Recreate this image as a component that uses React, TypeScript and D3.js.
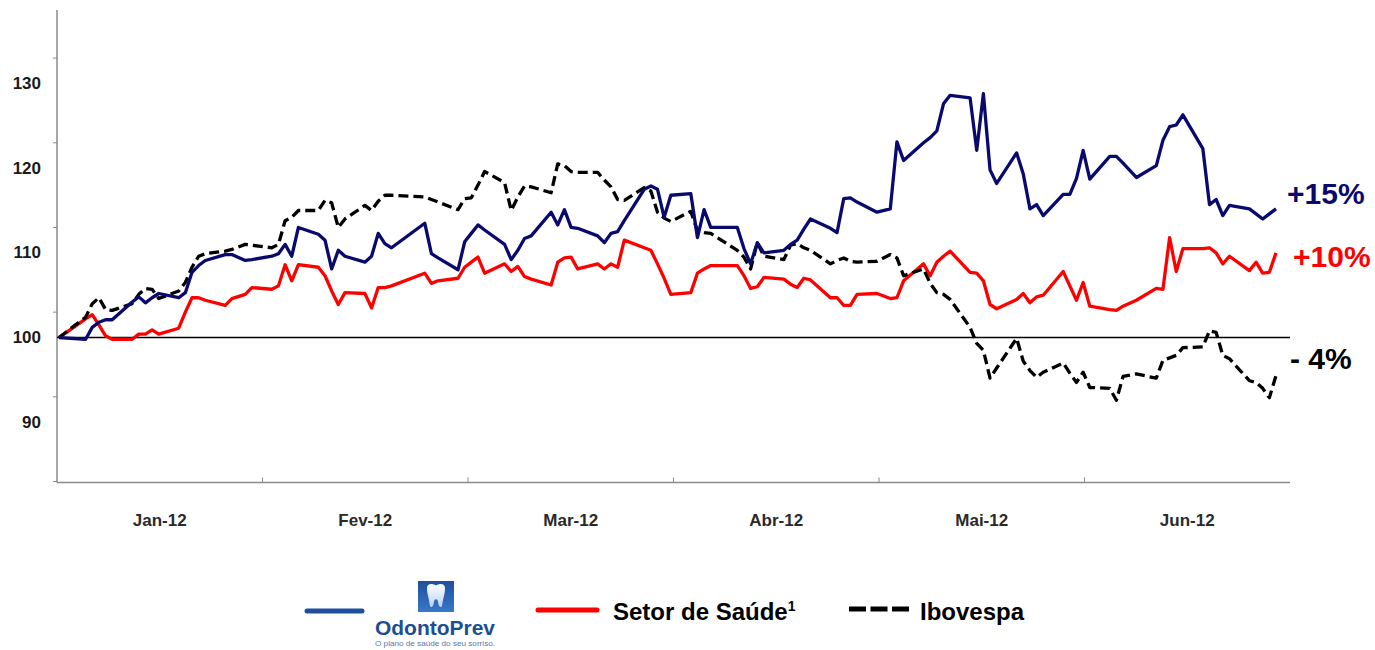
import React from "react";
import * as d3 from "d3";

// Trading days (BM&FBovespa), base 100 on 2011-12-29
const tradingDays = [
  "2011-12-29",
  "2012-01-02", "2012-01-03", "2012-01-04", "2012-01-05", "2012-01-06",
  "2012-01-09", "2012-01-10", "2012-01-11", "2012-01-12", "2012-01-13",
  "2012-01-16", "2012-01-17", "2012-01-18", "2012-01-19", "2012-01-20",
  "2012-01-23", "2012-01-24", "2012-01-26", "2012-01-27",
  "2012-01-30", "2012-01-31",
  "2012-02-01", "2012-02-02", "2012-02-03",
  "2012-02-06", "2012-02-07", "2012-02-08", "2012-02-09", "2012-02-10",
  "2012-02-13", "2012-02-14", "2012-02-15", "2012-02-16", "2012-02-17",
  "2012-02-22", "2012-02-23", "2012-02-24",
  "2012-02-27", "2012-02-28", "2012-02-29",
  "2012-03-01", "2012-03-02",
  "2012-03-05", "2012-03-06", "2012-03-07", "2012-03-08", "2012-03-09",
  "2012-03-12", "2012-03-13", "2012-03-14", "2012-03-15", "2012-03-16",
  "2012-03-19", "2012-03-20", "2012-03-21", "2012-03-22", "2012-03-23",
  "2012-03-26", "2012-03-27", "2012-03-28", "2012-03-29", "2012-03-30",
  "2012-04-02", "2012-04-03", "2012-04-04", "2012-04-05",
  "2012-04-09", "2012-04-10", "2012-04-11", "2012-04-12", "2012-04-13",
  "2012-04-16", "2012-04-17", "2012-04-18", "2012-04-19", "2012-04-20",
  "2012-04-23", "2012-04-24", "2012-04-25", "2012-04-26", "2012-04-27",
  "2012-04-30",
  "2012-05-02", "2012-05-03", "2012-05-04",
  "2012-05-07", "2012-05-08", "2012-05-09", "2012-05-10", "2012-05-11",
  "2012-05-14", "2012-05-15", "2012-05-16", "2012-05-17", "2012-05-18",
  "2012-05-21", "2012-05-22", "2012-05-23", "2012-05-24", "2012-05-25",
  "2012-05-28", "2012-05-29", "2012-05-30", "2012-05-31",
  "2012-06-01",
  "2012-06-04", "2012-06-05", "2012-06-06", "2012-06-08",
  "2012-06-11", "2012-06-12", "2012-06-13", "2012-06-14", "2012-06-15",
  "2012-06-18", "2012-06-19", "2012-06-20", "2012-06-21", "2012-06-22",
  "2012-06-25", "2012-06-26", "2012-06-27", "2012-06-28", "2012-06-29",
];

const odontoPrev = [
  100,
  99.8, 101.2, 101.8, 102.1, 102.1,
  104.2, 104.8, 104.1, 104.7, 105.2,
  104.7, 105.3, 107.7, 108.5, 109.1,
  109.8, 109.8, 109.1, 109.2,
  109.6, 109.9,
  111.0, 109.6, 113.0,
  112.2, 111.5, 108.1, 110.3, 109.6,
  108.9, 109.6, 112.3, 111.1, 110.6,
  113.5, 109.9, 109.4,
  108.0, 111.3, 112.3,
  113.3, 112.7,
  111.0, 109.2, 110.3, 111.7, 112.0,
  114.8, 113.3, 115.1, 113.0, 112.9,
  112.0, 111.2, 112.3, 112.5, 113.8,
  117.5, 117.9, 117.5, 114.2, 116.8,
  117.0, 111.8, 115.1, 113.0,
  113.0, 110.5, 108.7, 111.2, 110.0,
  110.3, 111.0, 111.5, 112.8, 114.0,
  112.9, 112.4, 116.4, 116.5, 116.0,
  114.8,
  115.2, 123.1, 120.9,
  123.0, 123.6, 124.4, 127.6, 128.6,
  128.3, 122.1, 128.8, 119.8, 118.2,
  121.8, 119.3, 115.2, 115.7, 114.4,
  116.9, 116.9, 118.8, 122.1,
  118.7,
  121.4, 121.4, 120.6, 118.9,
  120.3, 123.3, 124.9, 125.1, 126.3,
  122.3, 115.7, 116.3, 114.4, 115.6,
  115.2, 114.6, 114.0, 114.6, 115.2,
];

const setorSaude = [
  100,
  102.2, 102.7, 101.5, 100.2, 99.8,
  99.8, 100.4, 100.4, 100.9, 100.4,
  101.1, 103.0, 104.7, 104.7, 104.4,
  103.8, 104.6, 105.1, 105.9,
  105.7, 106.1,
  108.6, 106.7, 108.6,
  108.3, 107.3, 105.5, 103.9, 105.3,
  105.2, 103.5, 105.9, 105.9, 106.1,
  107.6, 106.4, 106.7,
  107.0, 108.3, 108.9,
  109.5, 107.6,
  108.7, 107.8, 108.4, 107.2, 106.9,
  106.2, 108.9, 109.4, 109.5, 108.1,
  108.7, 108.1, 108.7, 108.3, 111.5,
  110.6, 110.3, 108.7, 107.0, 105.1,
  105.3, 107.6, 108.1, 108.5,
  108.5, 107.3, 105.8, 106.0, 107.1,
  106.9, 106.3, 105.9, 107.0, 106.8,
  104.7, 104.7, 103.8, 103.8, 105.1,
  105.2,
  104.6, 104.7, 106.7,
  108.7, 107.3, 108.9, 109.6, 110.2,
  107.7, 107.6, 106.7, 103.9, 103.4,
  104.5, 105.2, 104.1, 104.8, 105.0,
  107.8, 106.1, 104.4, 106.5,
  103.7,
  103.3, 103.2, 103.7, 104.4,
  105.8, 105.7, 111.8, 107.8, 110.5,
  110.5, 110.6, 110.0, 108.7, 109.6,
  107.9, 108.9, 107.6, 107.7, 110.0,
];

const ibovespa = [
  100,
  102.4, 104.0, 104.7, 103.3, 103.2,
  104.0, 105.1, 105.8, 105.7, 104.6,
  105.5, 106.5, 108.3, 109.6, 109.9,
  110.2, 110.4, 111.0, 110.9,
  110.6, 111.0,
  113.8, 114.2, 115.0,
  115.0, 116.2, 115.9, 113.0, 114.0,
  115.6, 115.0, 116.1, 116.8, 116.8,
  116.6, 116.3, 116.0,
  115.1, 116.4, 116.5,
  118.0, 119.6,
  118.3, 115.0, 116.6, 117.9, 117.8,
  117.1, 120.5, 120.3, 119.6, 119.5,
  119.5, 118.6, 117.8, 116.3, 116.2,
  117.7, 117.3, 114.8, 114.1, 113.7,
  114.9, 112.6, 112.4, 112.3,
  110.3, 109.5, 108.1, 111.2, 109.6,
  109.2, 110.9, 111.1, 110.6, 110.3,
  108.7, 109.1, 109.4, 109.0, 108.9,
  109.0,
  109.8, 109.4, 107.3,
  108.1, 106.4, 105.3, 105.1, 104.5,
  101.2, 99.3, 98.5, 95.2, 96.4,
  99.9, 97.2, 96.1, 95.3, 95.9,
  97.0, 95.8, 94.7, 95.9,
  94.1,
  94.0, 92.6, 95.4, 95.7,
  95.2, 97.3, 97.6, 97.9, 98.8,
  98.9, 100.8, 100.6, 97.9, 97.5,
  94.9, 94.7, 94.0, 92.9, 95.5,
];

const monthLabels = ["Jan-12", "Fev-12", "Mar-12", "Abr-12", "Mai-12", "Jun-12"];
const yLabelValues = [90, 100, 110, 120, 130];
const yTickValues = [83, 93, 103, 113, 123, 133];
const endLabels = ["+15%", "+10%", "- 4%"];
const legendLabels = ["OdontoPrev", "Setor de Saúde", "Ibovespa"];

const NAVY = "#0a0a6e";
const RED = "#ff0000";
const BLACK = "#000000";
const FONT = "'Liberation Sans', Arial, sans-serif";

export default function App() {
  const parse = d3.timeParse("%Y-%m-%d");
  const dates = tradingDays.map((d) => parse(d) as Date);

  const x = d3
    .scaleTime()
    .domain(d3.extent(dates) as [Date, Date])
    .range([59, 1276]);
  const xm = d3.scaleBand().domain(monthLabels).range([57, 1290]).padding(0);
  const y = d3.scaleLinear().domain([83, 138.5]).range([481.5, 11.5]);

  const line = d3
    .line<number>()
    .x((_, i) => x(dates[i]))
    .y((d) => y(d));

  const axisY = y(83);
  const axisColor = "#8a8a8a";

  return (
    <svg
      width={1375}
      height={650}
      style={{ position: "absolute", left: 0, top: 0, background: "#fff" }}
      fontFamily={FONT}
    >
      <defs>
        <linearGradient id="logoGrad" x1="0" y1="0" x2="0" y2="1">
          <stop offset="0%" stopColor="#1f4f9e" />
          <stop offset="100%" stopColor="#3a78c8" />
        </linearGradient>
        <linearGradient id="toothGrad" x1="0" y1="0" x2="0" y2="1">
          <stop offset="0%" stopColor="#ffffff" />
          <stop offset="100%" stopColor="#b9d3f0" />
        </linearGradient>
      </defs>

      {/* Axes */}
      <line x1={57} x2={57} y1={10} y2={axisY + 1} stroke={axisColor} strokeWidth={1.5} />
      <line x1={57} x2={1290} y1={axisY + 1} y2={axisY + 1} stroke={axisColor} strokeWidth={1.5} />
      {yTickValues.map((v) => (
        <line key={"yt" + v} x1={53} x2={57} y1={y(v)} y2={y(v)} stroke={axisColor} strokeWidth={1} />
      ))}
      {monthLabels.slice(1).map((m) => (
        <line
          key={"xt" + m}
          x1={xm(m) as number}
          x2={xm(m) as number}
          y1={axisY + 1}
          y2={axisY - 4}
          stroke={axisColor}
          strokeWidth={1}
        />
      ))}

      {/* Y labels */}
      {yLabelValues.map((v) => (
        <text
          key={"yl" + v}
          x={41}
          y={y(v)}
          textAnchor="end"
          dominantBaseline="central"
          fontSize={17}
          fontWeight="bold"
          fill="#1a1a1a"
        >
          {v}
        </text>
      ))}

      {/* Month labels */}
      {monthLabels.map((m) => (
        <text
          key={"ml" + m}
          x={(xm(m) as number) + xm.bandwidth() / 2}
          y={520}
          textAnchor="middle"
          dominantBaseline="central"
          fontSize={17}
          fontWeight="bold"
          fill="#2a2a2a"
        >
          {m}
        </text>
      ))}

      {/* Base 100 line */}
      <line x1={57} x2={1290} y1={y(100)} y2={y(100)} stroke="#000" strokeWidth={1.5} />

      {/* Series */}
      <path d={line(setorSaude) || ""} fill="none" stroke={RED} strokeWidth={3.3} strokeLinejoin="round" />
      <path
        d={line(ibovespa) || ""}
        fill="none"
        stroke={BLACK}
        strokeWidth={3.3}
        strokeDasharray="10,5"
        strokeLinejoin="round"
      />
      <path d={line(odontoPrev) || ""} fill="none" stroke={NAVY} strokeWidth={3.3} strokeLinejoin="round" />

      {/* End labels */}
      <text x={1287} y={193} dominantBaseline="central" fontSize={30} fontWeight="bold" fill={NAVY}>
        {endLabels[0]}
      </text>
      <text x={1293} y={256} dominantBaseline="central" fontSize={30} fontWeight="bold" fill={RED}>
        {endLabels[1]}
      </text>
      <text x={1290} y={358} dominantBaseline="central" fontSize={30} fontWeight="bold" fill={BLACK}>
        {endLabels[2]}
      </text>

      {/* Legend */}
      <line x1={307} x2={362} y1={611} y2={611} stroke="#1d4f9c" strokeWidth={5} strokeLinecap="round" />
      <rect x={418} y={581} width={36} height={31} fill="url(#logoGrad)" />
      <path
        d="M427,588 C427,583.5 432,583 436,585.5 C440,583 445,583.5 445,588 C445,594 443,598 442,606 C441,608 438.5,607 438,601.5 C437.5,598.5 434.5,598.5 434,601.5 C433.5,607 431,608 430,606 C429,598 427,594 427,588 Z"
        fill="url(#toothGrad)"
      />
      <text
        x={375}
        y={635}
        fontSize={21}
        fontWeight="bold"
        fill="#1b4f92"
        textLength={120}
        lengthAdjust="spacingAndGlyphs"
      >
        {legendLabels[0]}
      </text>
      <text x={375} y={646} fontSize={7} fill="#5577aa" textLength={120} lengthAdjust="spacingAndGlyphs">
        O plano de saúde do seu sorriso.
      </text>

      <line x1={538} x2={597} y1={610} y2={610} stroke={RED} strokeWidth={5} strokeLinecap="round" />
      <text x={613} y={620} fontSize={24} fontWeight="bold" fill="#000">
        {legendLabels[1]}
        <tspan fontSize={14} dy={-9}>1</tspan>
      </text>

      <line x1={849} x2={909} y1={609} y2={609} stroke="#000" strokeWidth={5} strokeDasharray="17,4.5" />
      <text x={920} y={620} fontSize={24} fontWeight="bold" fill="#000">
        {legendLabels[2]}
      </text>
    </svg>
  );
}
